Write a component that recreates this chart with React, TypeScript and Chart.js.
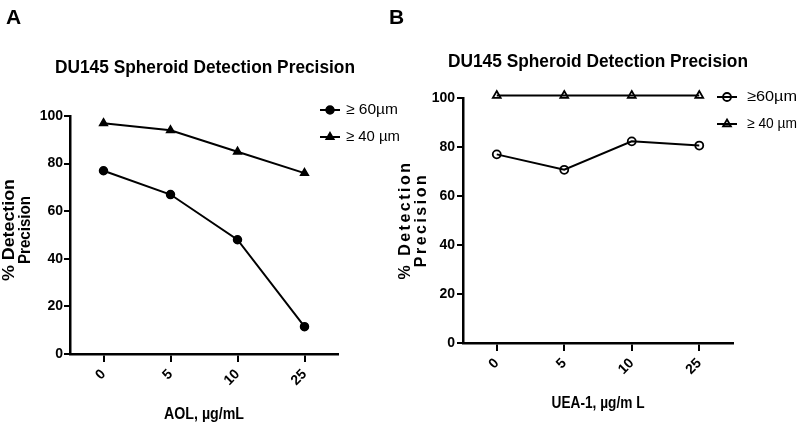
import React, { useEffect, useRef } from 'react';
import { Chart, registerables } from 'chart.js';

Chart.register(...registerables);

// ---------- data ----------
const categories = ['0', '5', '10', '25'];
const aolGe60 = [77, 67, 48, 11.5];
const aolGe40 = [97, 94, 85, 76];
const ueaGe60 = [77, 70.7, 82.3, 80.6];
const ueaGe40 = [101, 101, 101, 101];
const yTickValues = [0, 20, 40, 60, 80, 100];
const legendA = ['\u2265 60\u00b5m', '\u2265 40 \u00b5m'];
const legendB = ['\u226560\u00b5m', '\u2265 40 \u00b5m'];
const chartTitle = 'DU145 Spheroid Detection Precision';
const xTitleA = 'AOL, \u00b5g/mL';
const xTitleB = 'UEA-1, \u00b5g/m L';
const yTitleLines = ['% Detection', 'Precision'];

const SANS = "'Liberation Sans', Arial, Helvetica, sans-serif";

type Series = { label: string; data: number[]; style: 'circle' | 'triangle'; filled: boolean; radius: number };

type Panel = {
  left: number;
  width: number;
  letter: string;
  letterX: number;
  titleX: number;
  titleY: number;
  xTitle: string;
  xTitleX: number;
  xTitleY: number;
  xTitleW: number;
  yTitleXs: number[];
  yTitleY: number;
  yTitleWs: number[] | null;
  yLetterSpacing: number;
  area: { left: number; right: number; top: number; bottom: number };
  yTickPad: number;
  series: Series[];
  legendLineX: number;
  legendTextX: number;
  legendYs: number[];
  legendTextW: number[];
  pointBorder: number;
};

const panels: Panel[] = [
  {
    left: 0,
    width: 400,
    letter: 'A',
    letterX: 6,
    titleX: 205,
    titleY: 68,
    xTitle: xTitleA,
    xTitleX: 204,
    xTitleY: 414,
    xTitleW: 80,
    yTitleXs: [10, 26],
    yTitleY: 230,
    yTitleWs: [102, 68],
    yLetterSpacing: 0,
    area: { left: 70, right: 338, top: 116, bottom: 354 },
    yTickPad: 1,
    series: [
      { label: legendA[0], data: aolGe60, style: 'circle', filled: true, radius: 4 },
      { label: legendA[1], data: aolGe40, style: 'triangle', filled: true, radius: 4.5 },
    ],
    legendLineX: 320,
    legendTextX: 346,
    legendYs: [110, 137],
    legendTextW: [52, 54],
    pointBorder: 1.5,
  },
  {
    left: 385,
    width: 415,
    letter: 'B',
    letterX: 4,
    titleX: 213,
    titleY: 62,
    xTitle: xTitleB,
    xTitleX: 213,
    xTitleY: 403,
    xTitleW: 93,
    yTitleXs: [21, 37],
    yTitleY: 220,
    yTitleWs: null,
    yLetterSpacing: 2.5,
    area: { left: 78, right: 348, top: 98, bottom: 343 },
    yTickPad: 2,
    series: [
      { label: legendB[0], data: ueaGe60, style: 'circle', filled: false, radius: 4 },
      { label: legendB[1], data: ueaGe40, style: 'triangle', filled: false, radius: 4.5 },
    ],
    legendLineX: 332,
    legendTextX: 362,
    legendYs: [97, 124],
    legendTextW: [50, 50],
    pointBorder: 1.8,
  },
];

function fitText(
  ctx: CanvasRenderingContext2D,
  text: string,
  x: number,
  y: number,
  font: string,
  width: number | null,
  align: CanvasTextAlign,
  rot = 0,
  spacing = 0
) {
  ctx.save();
  ctx.font = font;
  (ctx as any).letterSpacing = spacing + 'px';
  let sx = 1;
  if (width) {
    const w = ctx.measureText(text).width;
    sx = width / w;
  }
  ctx.translate(x, y);
  ctx.rotate(rot);
  ctx.scale(sx, 1);
  ctx.textAlign = align;
  ctx.textBaseline = 'middle';
  ctx.fillStyle = '#000';
  ctx.fillText(text, 0, 0);
  ctx.restore();
}

function drawMarker(
  ctx: CanvasRenderingContext2D,
  style: string,
  x: number,
  y: number,
  r: number,
  filled: boolean,
  bw: number
) {
  ctx.beginPath();
  if (style === 'circle') {
    ctx.arc(x, y, r, 0, Math.PI * 2);
  } else {
    let rad = 0;
    ctx.moveTo(x + Math.sin(rad) * r, y - Math.cos(rad) * r);
    rad += (2 * Math.PI) / 3;
    ctx.lineTo(x + Math.sin(rad) * r, y - Math.cos(rad) * r);
    rad += (2 * Math.PI) / 3;
    ctx.lineTo(x + Math.sin(rad) * r, y - Math.cos(rad) * r);
    ctx.closePath();
  }
  if (filled) {
    ctx.fillStyle = '#000';
    ctx.fill();
  }
  ctx.strokeStyle = '#000';
  ctx.lineWidth = bw;
  ctx.stroke();
}

function PanelChart({ p }: { p: Panel }) {
  const ref = useRef<HTMLCanvasElement | null>(null);
  useEffect(() => {
    if (!ref.current) return;
    const decor = {
      id: 'decor',
      afterDraw(chart: any) {
        const ctx: CanvasRenderingContext2D = chart.ctx;
        fitText(ctx, p.letter, p.letterX, 18, `bold 21px ${SANS}`, null, 'left');
        fitText(ctx, chartTitle, p.titleX, p.titleY, `bold 18px ${SANS}`, 300, 'center');
        fitText(ctx, p.xTitle, p.xTitleX, p.xTitleY, `bold 17px ${SANS}`, p.xTitleW, 'center');
        yTitleLines.forEach((t, i) => {
          fitText(
            ctx,
            t,
            p.yTitleXs[i],
            p.yTitleY,
            `bold 16px ${SANS}`,
            p.yTitleWs ? p.yTitleWs[i] : null,
            'center',
            -Math.PI / 2,
            p.yLetterSpacing
          );
        });
        p.series.forEach((s, i) => {
          const y = p.legendYs[i];
          ctx.save();
          ctx.strokeStyle = '#000';
          ctx.lineWidth = 2;
          ctx.beginPath();
          ctx.moveTo(p.legendLineX, y);
          ctx.lineTo(p.legendLineX + 20, y);
          ctx.stroke();
          drawMarker(ctx, s.style, p.legendLineX + 10, y, s.radius, s.filled, p.pointBorder);
          ctx.restore();
          fitText(ctx, s.label, p.legendTextX, y, `15px ${SANS}`, p.legendTextW[i], 'left');
        });
      },
    };

    const chart = new Chart(ref.current, {
      type: 'line',
      data: {
        labels: categories,
        datasets: p.series.map((s) => ({
          label: s.label,
          data: s.data,
          borderColor: '#000',
          borderWidth: 2,
          pointStyle: s.style,
          pointRadius: s.radius,
          pointBorderWidth: p.pointBorder,
          pointBorderColor: '#000',
          pointBackgroundColor: s.filled ? '#000' : 'rgba(0,0,0,0)',
          tension: 0,
          clip: false,
        })),
      },
      options: {
        responsive: false,
        animation: false,
        events: [],
        layout: {
          padding: {
            left: 0,
            top: p.area.top,
            right: p.width - p.area.right,
            bottom: 0,
          },
        },
        plugins: {
          legend: { display: false },
          title: { display: false },
          tooltip: { enabled: false },
        },
        scales: {
          x: {
            type: 'category',
            offset: true,
            afterFit: (scale: any) => {
              scale.height = 427 - p.area.bottom;
            },
            grid: {
              display: true,
              drawOnChartArea: false,
              drawTicks: true,
              tickLength: 8,
              tickWidth: 2,
              color: '#000',
              lineWidth: 2,
            },
            border: { display: true, color: '#000', width: 2.5 },
            ticks: {
              color: '#000',
              font: { family: SANS, size: 14, weight: 'bold' },
              minRotation: 45,
              maxRotation: 45,
              padding: 4,
            },
            title: { display: false },
          },
          y: {
            min: 0,
            max: 100,
            afterFit: (scale: any) => {
              scale.width = p.area.left;
            },
            afterBuildTicks: (scale: any) => {
              scale.ticks = yTickValues.map((v) => ({ value: v }));
            },
            grid: {
              display: true,
              drawOnChartArea: false,
              drawTicks: true,
              tickLength: 6,
              tickWidth: 2,
              color: '#000',
              lineWidth: 2,
            },
            border: { display: true, color: '#000', width: 2.5 },
            ticks: {
              color: '#000',
              font: { family: SANS, size: 14, weight: 'bold' },
              padding: p.yTickPad,
            },
            title: { display: false },
          },
        },
      },
      plugins: [decor],
    } as any);
    return () => chart.destroy();
  }, [p]);
  return (
    <canvas
      ref={ref}
      width={p.width}
      height={427}
      style={{ position: 'absolute', left: p.left, top: 0, width: p.width, height: 427 }}
    />
  );
}

export default function App() {
  return (
    <div
      style={{
        position: 'fixed',
        left: 0,
        top: 0,
        width: 800,
        height: 427,
        background: '#fff',
        overflow: 'hidden',
      }}
    >
      {panels.map((p) => (
        <PanelChart key={p.letter} p={p} />
      ))}
    </div>
  );
}
